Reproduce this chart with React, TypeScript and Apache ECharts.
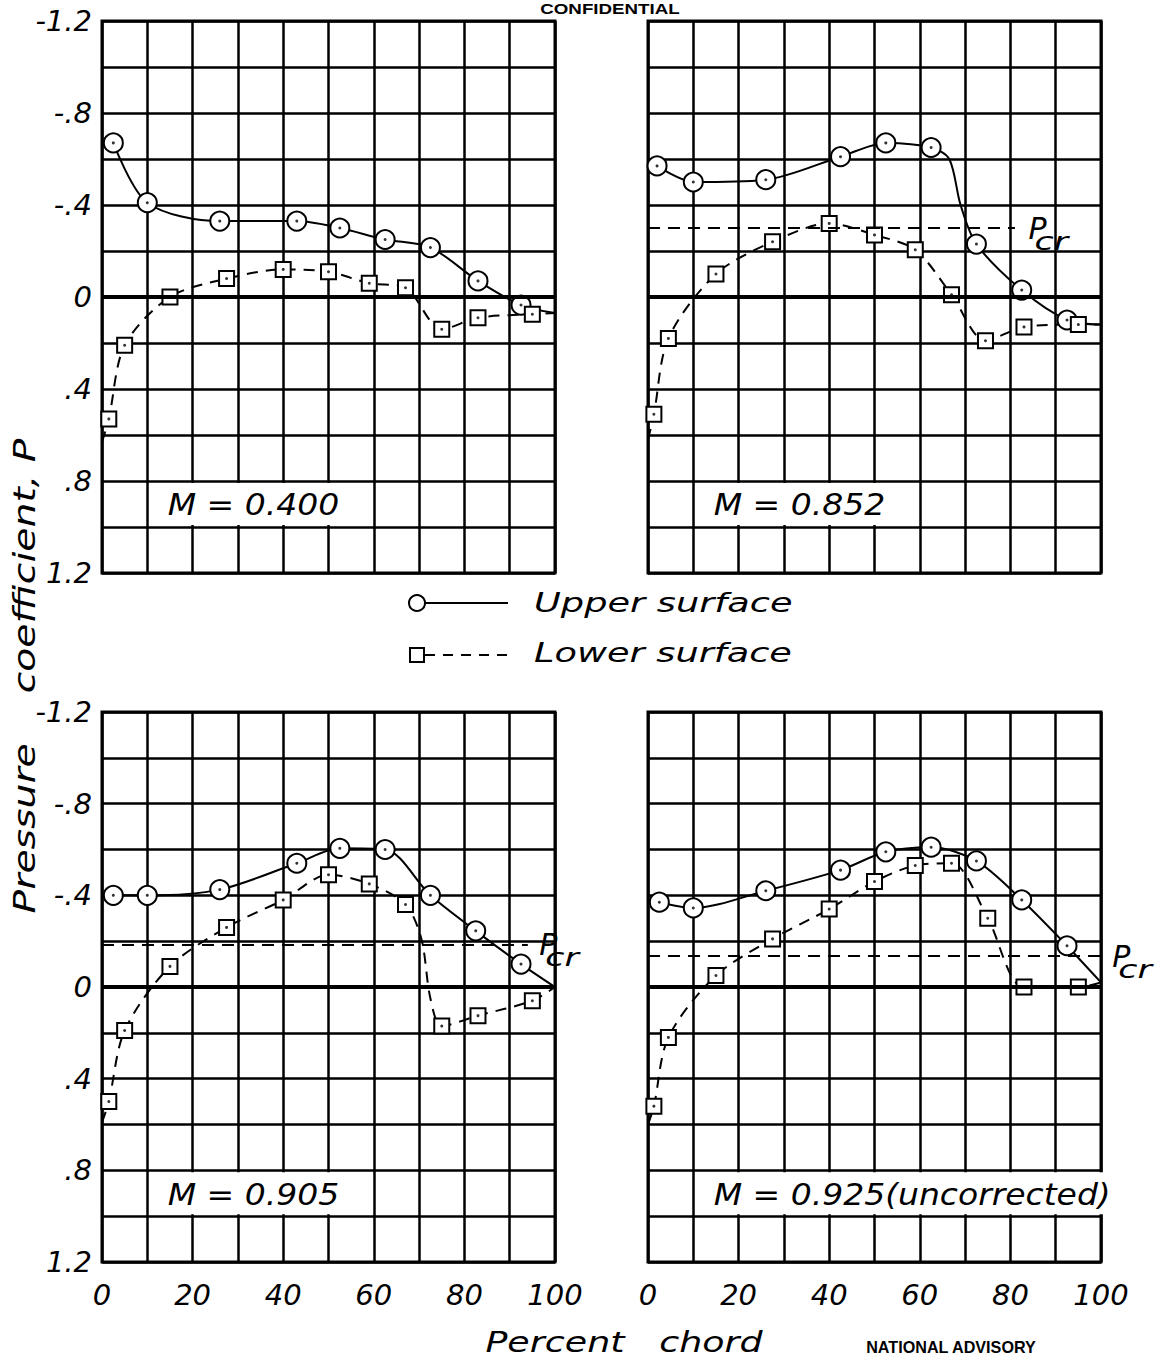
import { useEffect, useRef } from "react";
import * as echarts from "echarts";

type Pt = [number, number];

// Pressure coefficient P against percent chord, one set per Mach number.
// "Fair" points are where the faired curves close at the leading and
// trailing edges (and where they bend sharply between orifices); no symbol.

// M = 0.400
const upper400: Pt[] = [[2.5, -0.67], [10, -0.41], [26, -0.33], [43, -0.33], [52.5, -0.3], [62.5, -0.25], [72.5, -0.215], [83, -0.07], [92.5, 0.035]];
const lower400: Pt[] = [[1.5, 0.53], [5, 0.21], [15, 0.0], [27.5, -0.08], [40, -0.12], [50, -0.11], [59, -0.06], [67, -0.04], [75, 0.14], [83, 0.09], [95, 0.075]];
const upperFair400: Pt[] = [[100, 0.07]];
const lowerFair400: Pt[] = [[0, 0.63], [100, 0.07]];

// M = 0.852
const upper852: Pt[] = [[2, -0.57], [10, -0.5], [26, -0.51], [42.5, -0.61], [52.5, -0.67], [62.5, -0.65], [72.5, -0.23], [82.5, -0.03], [92.5, 0.1]];
const lower852: Pt[] = [[1.3, 0.51], [4.5, 0.18], [15, -0.1], [27.5, -0.24], [40, -0.32], [50, -0.27], [59, -0.205], [67, -0.01], [74.5, 0.19], [83, 0.13], [95, 0.12]];
const upperFair852: Pt[] = [[66.5, -0.6], [69, -0.4], [100, 0.12]];
const lowerFair852: Pt[] = [[0, 0.62], [100, 0.12]];

// M = 0.905
const upper905: Pt[] = [[2.5, -0.4], [10, -0.4], [26, -0.425], [43, -0.54], [52.5, -0.605], [62.5, -0.6], [72.5, -0.4], [82.5, -0.245], [92.5, -0.1]];
const lower905: Pt[] = [[1.5, 0.5], [5, 0.19], [15, -0.09], [27.5, -0.26], [40, -0.38], [50, -0.49], [59, -0.45], [67, -0.36], [75, 0.17], [83, 0.125], [95, 0.06]];
const upperFair905: Pt[] = [[100, 0.0]];
const lowerFair905: Pt[] = [[0, 0.59], [70.5, -0.21], [72.5, 0.05], [100, 0.0]];

// M = 0.925 (uncorrected)
const upper925: Pt[] = [[2.5, -0.37], [10, -0.345], [26, -0.42], [42.5, -0.51], [52.5, -0.59], [62.5, -0.61], [72.5, -0.55], [82.5, -0.38], [92.5, -0.18]];
const lower925: Pt[] = [[1.3, 0.52], [4.5, 0.22], [15, -0.05], [27.5, -0.21], [40, -0.34], [50, -0.46], [59, -0.53], [67, -0.54], [75, -0.3], [83, 0.0], [95, 0.0]];
const upperFair925: Pt[] = [[100, -0.02]];
const lowerFair925: Pt[] = [[0, 0.6], [100, -0.02]];

const upperSets = [upper400, upper852, upper905, upper925];
const lowerSets = [lower400, lower852, lower905, lower925];
const upperFairSets = [upperFair400, upperFair852, upperFair905, upperFair925];
const lowerFairSets = [lowerFair400, lowerFair852, lowerFair905, lowerFair925];

const machLabels = ["M = 0.400", "M = 0.852", "M = 0.905", "M = 0.925(uncorrected)"];

// critical pressure coefficient for each panel (none at M = 0.400)
const pcrValues: (number | null)[] = [null, -0.3, -0.185, -0.135];

const yLabelValues = [-1.2, -0.8, -0.4, 0, 0.4, 0.8, 1.2];
const yLabelTexts = ["-1.2", "-.8", "-.4", "0", ".4", ".8", "1.2"];
const xLabelValues = [0, 20, 40, 60, 80, 100];

// ---- layout ----
const FONT = "DejaVu Sans";
const panels = [
  { left: 102, top: 21, width: 453, height: 552 },
  { left: 648, top: 21, width: 453, height: 552 },
  { left: 102, top: 712, width: 453, height: 550 },
  { left: 648, top: 712, width: 453, height: 550 },
];
const pcrLineEnd = [0, 81, 94, 100];
const pcrLabelX = [0, 84, 96.5, 102.5];
const labelBoxEnd = [60, 60, 60, 109];

function curveData(measured: Pt[], fair: Pt[], symbol: string) {
  const items = [
    ...measured.map((p) => ({ value: p, symbol })),
    ...fair.map((p) => ({ value: p, symbol: "none" })),
  ];
  items.sort((a, b) => a.value[0] - b.value[0]);
  return items;
}

function yLabel(v: number) {
  const k = Math.round(v * 10);
  const idx = yLabelValues.findIndex((l) => Math.round(l * 10) === k);
  return idx >= 0 ? yLabelTexts[idx] : "";
}

function xLabel(v: number) {
  const r = Math.round(v);
  return xLabelValues.includes(r) ? String(r) : "";
}

function buildOption(): echarts.EChartsOption {
  const tickFont = { fontSize: 29, fontFamily: FONT, fontStyle: "italic" as const, color: "#000" };
  const grid = panels.map((p) => ({
    ...p,
    show: true,
    borderColor: "#000",
    borderWidth: 3,
    backgroundColor: "transparent",
    containLabel: false,
  }));
  const xAxis = panels.map((_, i) => ({
    type: "value" as const,
    gridIndex: i,
    min: 0,
    max: 100,
    interval: 10,
    axisLine: { show: false },
    axisTick: { show: false },
    splitLine: { show: true, lineStyle: { color: "#000", width: 2.5 } },
    axisLabel: i >= 2 ? { show: true, margin: 18, formatter: xLabel, ...tickFont } : { show: false },
  }));
  const yAxis = panels.map((_, i) => ({
    type: "value" as const,
    gridIndex: i,
    inverse: true,
    min: -1.2,
    max: 1.2,
    interval: 0.2,
    axisLine: { show: false },
    axisTick: { show: false },
    splitLine: { show: true, lineStyle: { color: "#000", width: 2.5 } },
    axisLabel: i % 2 === 0 ? { show: true, margin: 10, formatter: yLabel, ...tickFont } : { show: false },
  }));

  const series: any[] = [];
  panels.forEach((_, i) => {
    // zero line and critical pressure line
    const marks: any[] = [{ yAxis: 0, lineStyle: { color: "#000", width: 4, type: "solid" } }];
    const pcr = pcrValues[i];
    if (pcr !== null) {
      marks.push([
        { coord: [0, pcr], lineStyle: { color: "#000", width: 2, type: [12, 8] } },
        { coord: [pcrLineEnd[i], pcr] },
      ]);
    }
    series.push({
      type: "line",
      xAxisIndex: i,
      yAxisIndex: i,
      data: [],
      z: 1,
      silent: true,
      markLine: { silent: true, symbol: ["none", "none"], label: { show: false }, data: marks },
    });
    series.push({
      name: "Upper surface",
      type: "line",
      xAxisIndex: i,
      yAxisIndex: i,
      data: curveData(upperSets[i], upperFairSets[i], "circle"),
      smooth: 0.3,
      symbolSize: 19,
      showAllSymbol: true,
      lineStyle: { color: "#000", width: 2 },
      itemStyle: { color: "#fff", borderColor: "#000", borderWidth: 2 },
      z: 3,
    });
    series.push({
      name: "Lower surface",
      type: "line",
      xAxisIndex: i,
      yAxisIndex: i,
      data: curveData(lowerSets[i], lowerFairSets[i], "rect"),
      smooth: 0.3,
      symbolSize: 15,
      showAllSymbol: true,
      lineStyle: { color: "#000", width: 2, type: [11, 8] },
      itemStyle: { color: "#fff", borderColor: "#000", borderWidth: 2 },
      z: 3,
    });
    // centre dots of the orifice symbols
    series.push({
      type: "scatter",
      xAxisIndex: i,
      yAxisIndex: i,
      data: [...upperSets[i], ...lowerSets[i]],
      symbol: "circle",
      symbolSize: 3,
      itemStyle: { color: "#000" },
      z: 5,
      silent: true,
    });
  });

  return {
    animation: false,
    backgroundColor: "#fff",
    grid,
    xAxis,
    yAxis,
    series,
  };
}

function buildGraphic(chart: echarts.ECharts) {
  const px = (i: number, x: number, y: number) =>
    chart.convertToPixel({ gridIndex: i } as any, [x, y]) as unknown as number[];
  const italic = (text: string, x: number, y: number, fontSize: number, extra: any = {}) => ({
    type: "text",
    x,
    y,
    z: 20,
    silent: true,
    ...extra,
    style: {
      text,
      fontSize,
      fontFamily: FONT,
      fontStyle: "italic",
      fill: "#000",
      align: extra.align ?? "left",
      verticalAlign: "middle",
    },
  });

  const els: any[] = [];
  panels.forEach((_, i) => {
    // Mach number label in a cleared strip of the grid
    const a = px(i, 10, 0.8);
    const b = px(i, labelBoxEnd[i], 1.0);
    els.push({
      type: "rect",
      z: 15,
      silent: true,
      shape: { x: a[0] + 2, y: a[1] + 2, width: b[0] - a[0] - 4, height: b[1] - a[1] - 4 },
      style: { fill: "#fff" },
    });
    const t = px(i, 14.5, 0.9);
    els.push(italic(machLabels[i], t[0], t[1] + 1, 30, { scaleX: 1.1 }));

    const pcr = pcrValues[i];
    if (pcr !== null) {
      const p = px(i, pcrLabelX[i], pcr);
      els.push(italic("P", p[0], p[1], 30));
      els.push(italic("cr", p[0] + 6, p[1] + 13, 25, { scaleX: 1.4 }));
    }
  });

  // legend
  els.push({ type: "line", z: 20, shape: { x1: 425, y1: 603, x2: 508, y2: 603 }, style: { stroke: "#000", lineWidth: 2 } });
  els.push({ type: "circle", z: 21, shape: { cx: 417, cy: 603, r: 8 }, style: { fill: "#fff", stroke: "#000", lineWidth: 2 } });
  els.push(italic("Upper surface", 534, 603, 27, { scaleX: 1.36 }));
  els.push({ type: "line", z: 20, shape: { x1: 425, y1: 655, x2: 508, y2: 655 }, style: { stroke: "#000", lineWidth: 2, lineDash: [10, 8] } });
  els.push({ type: "rect", z: 21, shape: { x: 410, y: 648, width: 14, height: 14 }, style: { fill: "#fff", stroke: "#000", lineWidth: 2 } });
  els.push(italic("Lower surface", 534, 653, 27, { scaleX: 1.36 }));

  // axis titles
  els.push(italic("Percent   chord", 624, 1343, 28, { scaleX: 1.3, align: "center" }));
  els.push(italic("Pressure    coefficient, P", 25, 676, 30, { scaleX: 1.31, rotation: Math.PI / 2, align: "center" }));

  // sheet markings
  els.push({
    type: "text",
    x: 610,
    y: 9,
    z: 20,
    scaleX: 1.25,
    style: { text: "CONFIDENTIAL", fontSize: 15, fontFamily: "Liberation Sans", fontWeight: "bold", fill: "#000", align: "center", verticalAlign: "middle" },
  });
  els.push({
    type: "text",
    x: 951,
    y: 1347,
    z: 20,
    scaleX: 0.95,
    style: { text: "NATIONAL ADVISORY", fontSize: 17, fontFamily: "Liberation Sans", fontWeight: "bold", fill: "#000", align: "center", verticalAlign: "middle" },
  });
  return { elements: els };
}

export default function App() {
  const ref = useRef<HTMLDivElement>(null);
  useEffect(() => {
    document.body.style.margin = "0";
    const chart = echarts.init(ref.current!, undefined, { renderer: "svg" });
    chart.setOption(buildOption());
    chart.setOption({ graphic: buildGraphic(chart) } as any);
    return () => chart.dispose();
  }, []);
  return <div ref={ref} style={{ width: 1156, height: 1361, background: "#fff" }} />;
}
